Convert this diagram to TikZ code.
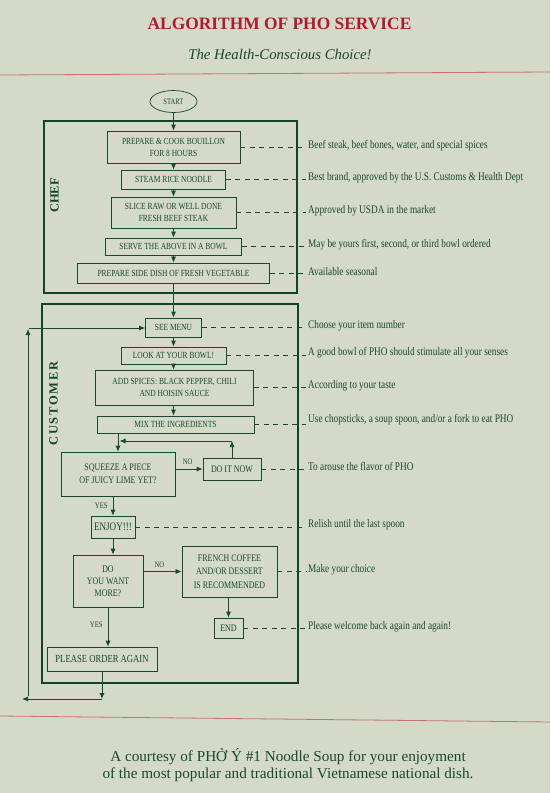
\documentclass[tikz,border=0pt]{standalone}
\usepackage{fontspec}
\setmainfont{Liberation Serif}
\newfontfamily\condfont[FakeStretch=0.8]{Liberation Serif}
\usetikzlibrary{arrows.meta,shapes.geometric}
\definecolor{paper}{RGB}{212,217,200}
\definecolor{ink}{RGB}{24,72,52}
\definecolor{lanec}{RGB}{18,68,44}
\definecolor{titlered}{RGB}{172,28,48}
\definecolor{rulec}{RGB}{200,112,120}
\begin{document}
\begin{tikzpicture}[x=1pt,y=-1pt,
  flowbox/.style={draw=ink, line width=0.7pt, inner sep=0pt, align=center, text=ink,
    font=\condfont\fontsize{9.35}{12}\selectfont},
  bigbox/.style={flowbox, font=\condfont\fontsize{9.95}{13.5}\selectfont},
  note/.style={anchor=west, inner sep=0pt, text=ink, font=\condfont\fontsize{11.6}{12}\selectfont},
  flow/.style={draw=ink, line width=0.75pt, -{Latex[length=6pt,width=5pt]}},
  lead/.style={draw=ink, line width=0.6pt, dash pattern=on 5pt off 4.5pt, shorten >=2pt},
  lane/.style={draw=lanec, line width=1.8pt, inner sep=0pt},
  lanelabel/.style={rotate=90, inner sep=0pt, text=lanec, font=\bfseries\fontsize{12.5}{13}\selectfont},
  yn/.style={inner sep=0pt, text=ink, font=\condfont\fontsize{8.4}{9}\selectfont}
]
\fill[paper] (0,0) rectangle (550,793);
\useasboundingbox (0,0) rectangle (550,793);

% header
\node[text=titlered, font=\bfseries\fontsize{17.4}{20}\selectfont, inner sep=0pt] (title) at (279.5,23.5) {ALGORITHM OF PHO SERVICE};
\node[text=ink, font=\itshape\fontsize{14.8}{17}\selectfont, inner sep=0pt] (subtitle) at (280,54) {The Health-Conscious Choice!};
\draw[rulec, line width=0.8pt] (0,75) -- (550,72);
\draw[rulec, line width=0.8pt] (0,716) -- (550,722);

% lanes
\node[lane, minimum width=253pt, minimum height=172pt] (chef) at (170.5,207) {};
\node[lane, minimum width=256pt, minimum height=379pt] (cust) at (170,493.5) {};
\node[lanelabel] (cheflabel) at (54.5,195.5) {CHEF};
\node[lanelabel, font=\bfseries\fontsize{12.5}{13}\selectfont\addfontfeature{LetterSpace=14}] (custlabel) at (53.5,403.5) {CUSTOMER};

% chef nodes
\node[draw=ink, line width=0.7pt, ellipse, inner sep=0pt, minimum width=47pt, minimum height=22pt, text=ink, font=\condfont\fontsize{8.3}{9}\selectfont] (start) at (173.5,101.5) {START};
\node[flowbox, minimum width=133pt, minimum height=32pt] (n1) at (173.5,147) {PREPARE \& COOK BOUILLON\\FOR 8 HOURS};
\node[flowbox, minimum width=104pt, minimum height=19pt] (n2) at (173.5,179.5) {STEAM RICE NOODLE};
\node[flowbox, minimum width=125pt, minimum height=31pt] (n3) at (173.5,212.5) {SLICE RAW OR WELL DONE\\FRESH BEEF STEAK};
\node[flowbox, minimum width=136pt, minimum height=17pt] (n4) at (173.5,246.5) {SERVE THE ABOVE IN A BOWL};
\node[flowbox, minimum width=192pt, minimum height=20pt] (n5) at (173.5,273) {PREPARE SIDE DISH OF FRESH VEGETABLE};

% customer nodes
\node[flowbox, minimum width=56pt, minimum height=19pt] (c1) at (173.5,327.5) {SEE MENU};
\node[flowbox, minimum width=105pt, minimum height=17pt] (c2) at (173.5,355.5) {LOOK AT YOUR BOWL!};
\node[flowbox, minimum width=158pt, minimum height=35pt] (c3) at (174.5,387.5) {ADD SPICES: BLACK PEPPER, CHILI\\AND HOISIN SAUCE};
\node[flowbox, minimum width=157pt, minimum height=17pt] (c4) at (175.5,424.5) {MIX THE INGREDIENTS};
\node[bigbox, minimum width=114pt, minimum height=44pt] (c5) at (118,474) {SQUEEZE A PIECE\\OF JUICY LIME YET?};
\node[bigbox, minimum width=58pt, minimum height=22pt] (c6) at (232,469) {DO IT NOW};
\node[flowbox, font=\condfont\fontsize{11.4}{12}\selectfont, minimum width=44pt, minimum height=22pt] (c7) at (113,527) {ENJOY!!!};
\node[bigbox, font=\condfont\fontsize{9.95}{12}\selectfont, minimum width=70pt, minimum height=52pt] (c8) at (108,581) {DO\\YOU WANT\\MORE?};
\node[bigbox, minimum width=95pt, minimum height=51pt] (c9) at (229.5,571.5) {FRENCH COFFEE\\AND/OR DESSERT\\IS RECOMMENDED};
\node[bigbox, minimum width=29pt, minimum height=20pt] (c10) at (228.5,628) {END};
\node[bigbox, font=\condfont\fontsize{10.8}{12}\selectfont, minimum width=110pt, minimum height=24pt] (c11) at (102,659) {PLEASE ORDER AGAIN};

% annotations
\node[note] (a1) at (308,145.5) {Beef steak, beef bones, water, and special spices};
\node[note] (a2) at (308,178) {Best brand, approved by the U.S. Customs \& Health Dept};
\node[note] (a3) at (308,211) {Approved by USDA in the market};
\node[note] (a4) at (308,245) {May be yours first, second, or third bowl ordered};
\node[note] (a5) at (308,272) {Available seasonal};
\node[note] (b1) at (308,325.5) {Choose your item number};
\node[note] (b2) at (308,353) {A good bowl of PHO should stimulate all your senses};
\node[note] (b3) at (308,386) {According to your taste};
\node[note] (b4) at (308,420) {Use chopsticks, a soup spoon, and/or a fork to eat PHO};
\node[note] (b5) at (308,466) {To arouse the flavor of PHO};
\node[note] (b6) at (308,525) {Relish until the last spoon};
\node[note] (b7) at (308,569.5) {Make your choice};
\node[note] (b8) at (308,627) {Please welcome back again and again!};

\foreach \s/\t in {n1/a1,n2/a2,n3/a3,n4/a4,n5/a5,c1/b1,c2/b2,c3/b3,c4/b4,c6/b5,c7/b6,c9/b7,c10/b8}
  \draw[lead] (\s.east) -- (\s.east -| \t.west);

% main flow
\draw[flow] (start.south) -- (n1.north);
\draw[flow] (n1.south) -- (n2.north);
\draw[flow] (n2.south) -- (n3.north);
\draw[flow] (n3.south) -- (n4.north);
\draw[flow] (n4.south) -- (n5.north);
\draw[flow] (n5.south) -- (c1.north);
\draw[flow] (c1.south) -- (c2.north);
\draw[flow] (c2.south) -- (c3.north -| c2.south);
\draw[flow] (c3.south -| c2.south) -- (c4.north -| c2.south);
\draw[flow] (c4.south -| c5.north) -- (c5.north);

% do it now loop
\coordinate (loopr) at (232,441);
\coordinate (loopl) at (119.5,441);
\draw[flow] (c5.east |- c6.west) -- (c6.west) node[yn, pos=0.45, above=4pt] (no1) {NO};
\draw[flow] (c6.north) -- (loopr);
\draw[flow] (loopr) -- (loopl);

% lower part
\draw[flow] (c5.south -| c7.north) -- (c7.north) node[yn, pos=0.5, left=5pt] (yes1) {YES};
\draw[flow] (c7.south) -- (c7.south |- c8.north);
\draw[flow] (c8.east |- c9.west) -- (c9.west) node[yn, pos=0.42, above=4pt] (no2) {NO};
\draw[flow] (c9.south -| c10.north) -- (c10.north);
\draw[flow] (c8.south) -- (c8.south |- c11.north) node[yn, pos=0.45, left=5pt] (yes2) {YES};

% return loop
\coordinate (bj) at (102,699);
\coordinate (bl) at (22,699);
\coordinate (vb) at (28,696);
\coordinate (vt) at (28,329);
\coordinate (ht) at (29,328);
\draw[flow] (c11.south) -- (bj);
\draw[flow] (bj) -- (bl);
\draw[flow] (vb) -- (vt);
\draw[flow] (ht) -- (c1.west |- ht);

% footer
\node[text=ink, align=center, font=\fontsize{15.2}{17.5}\selectfont, inner sep=0pt] (footer) at (288,765) {A courtesy of PHỞ Ý \#1 Noodle Soup for your enjoyment\\of the most popular and traditional Vietnamese national dish.};
\end{tikzpicture}
\end{document}
